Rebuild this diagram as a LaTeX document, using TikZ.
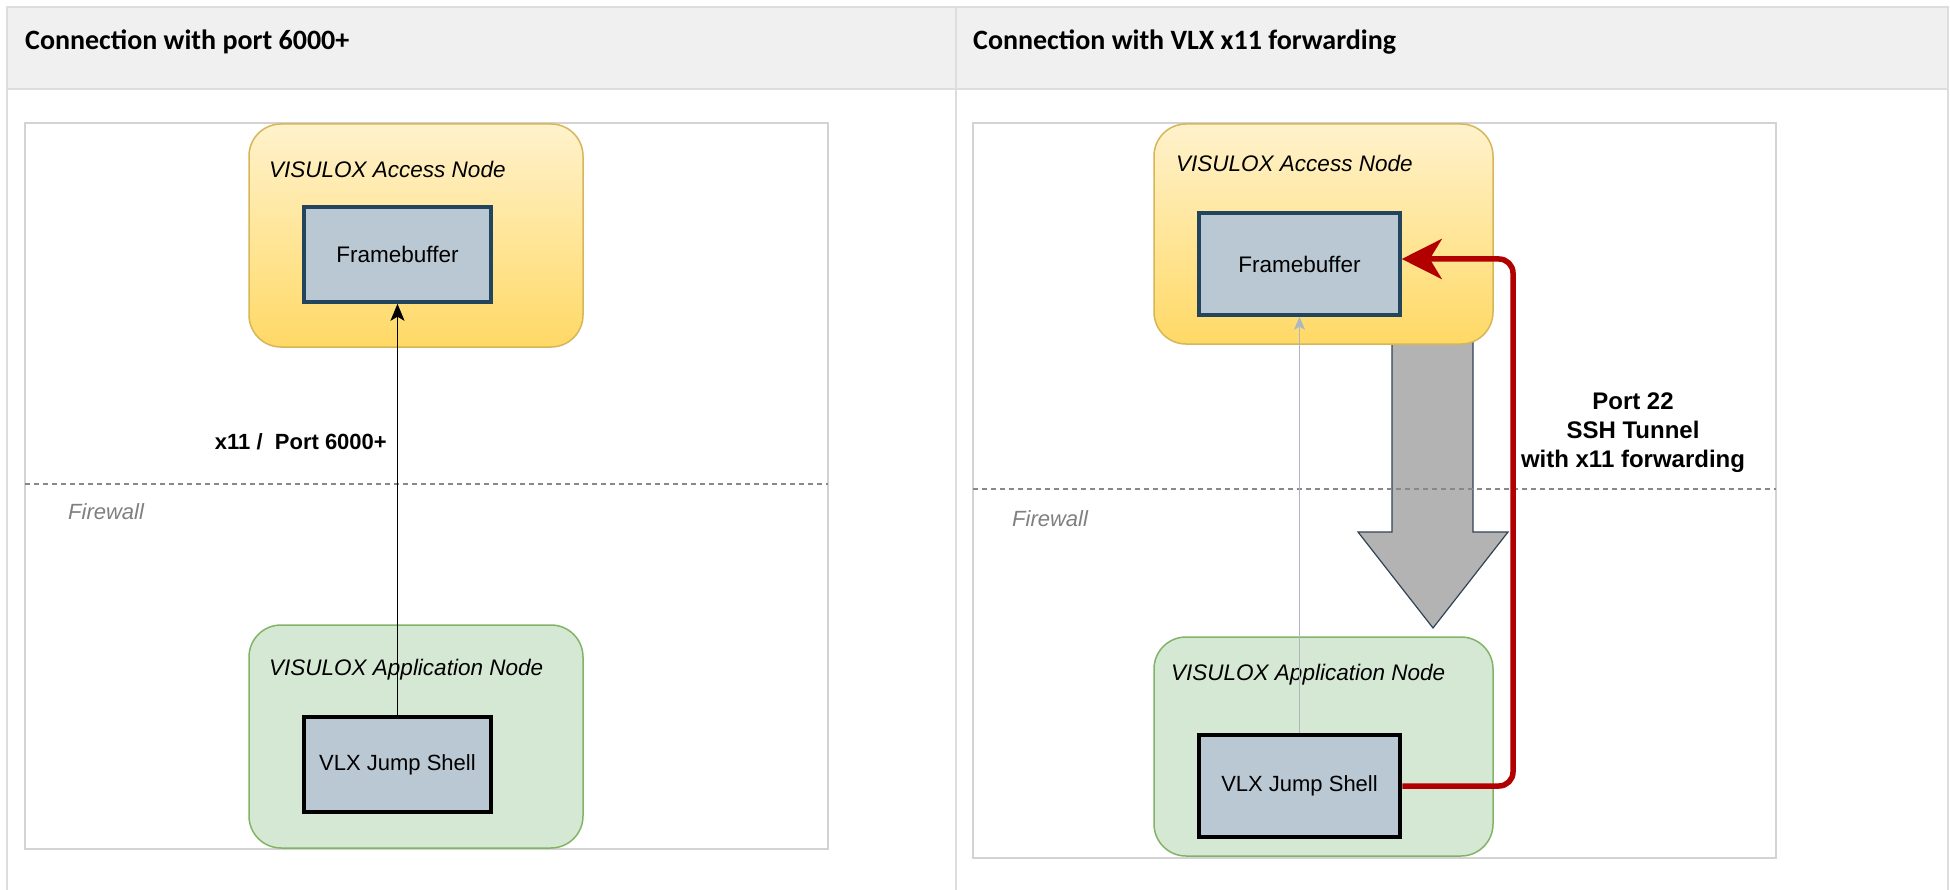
\documentclass[tikz,border=0pt]{standalone}
\usepackage{fontspec}
\setmainfont{Liberation Sans}
\newfontfamily\hdrfont{Carlito}
\usetikzlibrary{arrows.meta}
\definecolor{tblline}{HTML}{DDDDDD}
\definecolor{hdrfill}{HTML}{F0F0F0}
\definecolor{panelline}{HTML}{D3D3D3}
\definecolor{ytop}{HTML}{FFF2CC}
\definecolor{ybot}{HTML}{FFD966}
\definecolor{yline}{HTML}{D6B656}
\definecolor{gfill}{HTML}{D5E8D4}
\definecolor{gline}{HTML}{82B366}
\definecolor{bfill}{HTML}{BAC8D3}
\definecolor{bline}{HTML}{23445D}
\definecolor{redl}{HTML}{B20000}
\definecolor{bigfill}{HTML}{B3B3B3}
\definecolor{bigline}{HTML}{314354}
\definecolor{thinarrow}{HTML}{AEB7C1}
\definecolor{fwtext}{HTML}{808080}
\definecolor{dashc}{HTML}{888888}
\begin{document}
\begin{tikzpicture}[x=1pt,y=-1pt,
  hdr/.style={anchor=base west,inner sep=0,font=\hdrfont\bfseries\fontsize{28}{32}\selectfont},
  panel/.style={draw=panelline,line width=1.5pt},
  accessnode/.style={draw=yline,line width=1.5pt,top color=ytop,bottom color=ybot,rounded corners=32pt,inner sep=0},
  appnode/.style={draw=gline,line width=1.5pt,fill=gfill,rounded corners=32pt,inner sep=0},
  fbbox/.style={draw=bline,line width=3.5pt,fill=bfill,inner sep=0,font=\fontsize{22.5}{27}\selectfont},
  jsbox/.style={draw=black,line width=4.5pt,fill=bfill,inner sep=0,font=\fontsize{22}{27}\selectfont},
  title/.style={anchor=west,inner sep=0,font=\fontsize{22.5}{27}\selectfont\itshape},
  fwlbl/.style={anchor=west,inner sep=0,text=fwtext,font=\fontsize{22}{27}\selectfont\itshape},
  fwline/.style={draw=dashc,line width=1.5pt,dash pattern=on 5pt off 4pt},
  edgelbl/.style={inner sep=0,font=\bfseries\fontsize{24}{29}\selectfont,align=center}
]
\useasboundingbox (0,0) rectangle (1950,890);
\fill[white] (0,0) rectangle (1950,890);
% table
\fill[hdrfill] (7,7) rectangle (1948,89);
\draw[tblline,line width=2.5pt] (7,890) -- (7,7) -- (1948,7) -- (1948,890);
\draw[tblline,line width=2.5pt] (7,89) -- (1948,89);
\draw[tblline,line width=2.5pt] (956,7) -- (956,890);
\node[hdr] (h1) at (25,50) {Connection with port 6000+};
\node[hdr] (h2) at (973,50) {Connection with VLX x11 forwarding};
% panels
\draw[panel] (25,123) rectangle (828,849);
\draw[panel] (973,123) rectangle (1776,858);

% ---------- left diagram ----------
\node[accessnode,minimum width=334pt,minimum height=223pt] (accL) at (416,235.5) {};
\node[title] (accLt) at (269,169) {VISULOX Access Node};
\node[fbbox,minimum width=187pt,minimum height=95pt] (fbL) at (397.5,254.5) {Framebuffer};
\draw[fwline] (25,484) -- (828,484);
\node[fwlbl] (fwL) at (68,512) {Firewall};
\node[appnode,minimum width=334pt,minimum height=223pt] (appL) at (416,736.5) {};
\node[title] (appLt) at (269,670) {VISULOX Application Node};
\node[jsbox,minimum width=187pt,minimum height=95pt] (jsL) at (397.5,764.5) {VLX Jump Shell};
\draw[line width=1.5pt,-{Stealth[length=17pt,width=14pt,inset=4pt]}] (jsL.north) -- (fbL.south);
\node[anchor=east,inner sep=0,font=\bfseries\fontsize{22}{26}\selectfont] (lblL) at (387,442) {x11 /\ \ Port 6000+};

% ---------- right diagram ----------
\draw[fill=bigfill,draw=bigline,line width=1.2pt] (1392,330) -- (1392,532) -- (1358,532) -- (1433,628) -- (1508,532) -- (1473,532) -- (1473,330) -- cycle;
\node[accessnode,minimum width=339pt,minimum height=220pt] (accR) at (1323.5,234) {};
\node[title] (accRt) at (1176,163) {VISULOX Access Node};
\node[fbbox,minimum width=201pt,minimum height=102pt] (fbR) at (1299.5,264) {Framebuffer};
\draw[fwline] (973,489) -- (1776,489);
\node[fwlbl] (fwR) at (1012,519) {Firewall};
\node[appnode,minimum width=339pt,minimum height=219pt] (appR) at (1323.5,746.5) {};
\node[title] (appRt) at (1171,675) {VISULOX Application Node};
\node[jsbox,minimum width=201pt,minimum height=102pt] (jsR) at (1299.5,786) {VLX Jump Shell};
\draw[thinarrow,line width=1.2pt,-{Stealth[length=13pt,width=11pt,inset=3pt]}] (jsR.north) -- (fbR.south);
\coordinate (rtop) at (1513,259);
\draw[redl,line width=5.5pt,rounded corners=14pt,-{Stealth[length=40pt,width=40pt,inset=12pt]}] (jsR.east) -| (rtop) -- (fbR.east |- rtop);
\node[edgelbl] (lblR) at (1633,433) {Port 22\\SSH Tunnel\\with x11 forwarding};
\end{tikzpicture}
\end{document}
